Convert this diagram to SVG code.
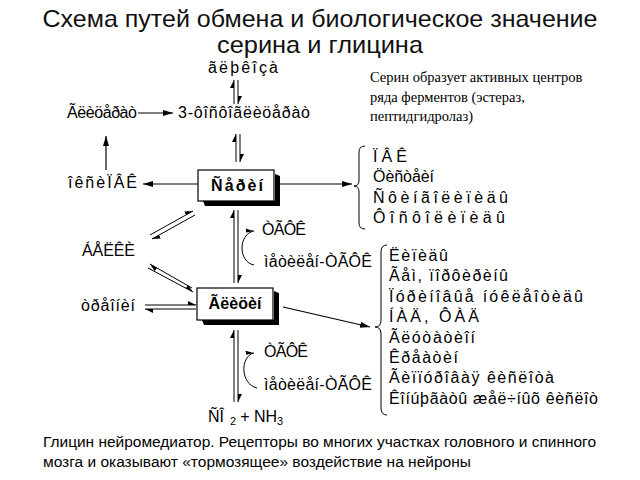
<svg xmlns="http://www.w3.org/2000/svg" width="640" height="480" viewBox="0 0 640 480">
<defs>
<marker id="ah" markerUnits="userSpaceOnUse" markerWidth="12" markerHeight="8" refX="10" refY="4" orient="auto"><path d="M0,1 L10,4 L0,7 Z" fill="#000"/></marker>
<marker id="hh" markerUnits="userSpaceOnUse" markerWidth="10" markerHeight="6" refX="8" refY="4.5" orient="auto"><path d="M0,0.5 L8,4.5 L0,4.5 Z" fill="#000"/></marker>
<style>
.t{font-family:"Liberation Sans",Arial,sans-serif;font-size:16px;fill:#000}
.b{font-family:"Liberation Sans",Arial,sans-serif;font-size:16px;font-weight:bold;fill:#000}
.s{font-family:"Liberation Serif","Times New Roman",serif;font-size:14.5px;fill:#000}
.ti{font-family:"Liberation Sans",Arial,sans-serif;font-size:24px;fill:#111}
.f{font-family:"Liberation Sans",Arial,sans-serif;font-size:15.5px;fill:#000}
.ln{stroke:#000;stroke-width:1;fill:none}
.ar{stroke:#000;stroke-width:1.2;fill:none;marker-end:url(#ah)}
.hp{stroke:#000;stroke-width:1;fill:none;marker-end:url(#hh)}
.box{fill:#fff;stroke:#000;stroke-width:1.2}
.sh{fill:#000}
</style>
</defs>
<rect width="640" height="480" fill="#fff"/>
<text class="ti" x="320" y="27" text-anchor="middle" textLength="555" lengthAdjust="spacingAndGlyphs">Схема путей обмена и биологическое значение</text>
<text class="ti" x="320" y="53" text-anchor="middle" textLength="206" lengthAdjust="spacingAndGlyphs">серина и глицина</text>

<text class="s" x="370" y="82">Серин образует активных центров</text>
<text class="s" x="370" y="102">ряда ферментов (эстераз,</text>
<text class="s" x="370" y="121">пептидгидролаз)</text>

<g id="connectors">
<line class="hp" x1="234" y1="104" x2="234" y2="80"/>
<line class="hp" x1="238" y1="80" x2="238" y2="104"/>
<line class="ar" x1="138" y1="113" x2="173" y2="113"/>
<line class="hp" x1="236" y1="162" x2="236" y2="134"/>
<line class="hp" x1="240" y1="134" x2="240" y2="162"/>
<line class="ar" x1="106" y1="170" x2="106" y2="136"/>
<line class="ar" x1="198" y1="184" x2="143" y2="184"/>
<line class="ar" x1="279" y1="184" x2="352" y2="184"/>
<line class="hp" x1="150" y1="235" x2="193" y2="211"/>
<line class="hp" x1="195" y1="215" x2="152" y2="239"/>
<line class="hp" x1="148" y1="268" x2="193" y2="292"/>
<line class="hp" x1="192" y1="288" x2="150" y2="264"/>
<line class="hp" x1="145" y1="305" x2="196" y2="305"/>
<line class="hp" x1="196" y1="309" x2="145" y2="309"/>
<line class="hp" x1="234" y1="283" x2="234" y2="210"/>
<line class="hp" x1="238" y1="210" x2="238" y2="283"/>
<path class="hp" d="M254,265 C238,262 238,234 254,231"/>
<line class="hp" x1="234" y1="402" x2="234" y2="330"/>
<line class="hp" x1="238" y1="330" x2="238" y2="402"/>
<path class="hp" d="M257,388 C240,384 240,356 254,353"/>
<line class="ar" x1="283" y1="307" x2="370" y2="327"/>
<path class="ln" d="M365,146 Q359,146 359,152 L359,180 Q359,186 354,186 Q359,186 359,192 L359,223 Q359,229 365,229"/>
<path class="ln" d="M387,245 Q381,245 381,252 L381,320 Q381,327 375,327 Q381,327 381,334 L381,408 Q381,415 387,415"/>
</g>

<g id="serine">
<polygon class="sh" points="203,201 275,201 275,174 280,176 280,206 205,206"/>
<rect class="box" x="198" y="170" width="76" height="31"/>
<text class="b" x="237" y="191" text-anchor="middle" textLength="52" lengthAdjust="spacing">Ñåðèí</text>
</g>
<g id="glycine">
<polygon class="sh" points="202,320 274,320 274,291 279,293 279,325 204,325"/>
<rect class="box" x="197" y="288" width="76" height="32"/>
<text class="b" x="235" y="309" text-anchor="middle" textLength="53" lengthAdjust="spacing">Ãëèöèí</text>
</g>

<g id="glucose"><text class="t" x="208" y="73" textLength="70" lengthAdjust="spacing">ãëþêîçà</text></g>
<g id="glycerate"><text class="t" x="67" y="118" textLength="70" lengthAdjust="spacing">Ãëèöåðàò</text></g>
<g id="pg3"><text class="t" x="178" y="118" textLength="132" lengthAdjust="spacing">3-ôîñôîãëèöåðàò</text></g>
<g id="oxypvk"><text class="t" x="68" y="188" textLength="69" lengthAdjust="spacing">îêñèÏÂÊ</text></g>
<g id="proteins"><text class="t" x="82" y="256" textLength="53" lengthAdjust="spacing">ÁÅËÊÈ</text></g>
<g id="threonine"><text class="t" x="81" y="311" textLength="54" lengthAdjust="spacing">òðåîíèí</text></g>
<g id="thf1"><text class="t" x="262" y="235" textLength="44" lengthAdjust="spacing">ÒÃÔÊ</text></g>
<g id="mthf1"><text class="t" x="264" y="267" textLength="108" lengthAdjust="spacing">ìåòèëåí-ÒÃÔÊ</text></g>
<g id="thf2"><text class="t" x="264" y="357" textLength="44" lengthAdjust="spacing">ÒÃÔÊ</text></g>
<g id="mthf2"><text class="t" x="264" y="390" textLength="108" lengthAdjust="spacing">ìåòèëåí-ÒÃÔÊ</text></g>
<g id="co2nh3"><text class="t" x="208" y="422" style="font-size:16px">ÑÎ<tspan dx="6" dy="3" style="font-size:11px">2</tspan><tspan dx="4" dy="-3">+ NH</tspan><tspan dy="3" style="font-size:11px">3</tspan></text></g>

<g id="serine-products">
<text class="t" x="373" y="162" textLength="34" lengthAdjust="spacing">ÏÂÊ</text>
<text class="t" x="373" y="182" textLength="61" lengthAdjust="spacing">Öèñòåèí</text>
<text class="t" x="373" y="203" textLength="135" lengthAdjust="spacing">Ñôèíãîëèïèäû</text>
<text class="t" x="373" y="223" textLength="132" lengthAdjust="spacing">Ôîñôîëèïèäû</text>
</g>
<g id="glycine-products">
<text class="t" x="389" y="261" textLength="59" lengthAdjust="spacing">Ëèïèäû</text>
<text class="t" x="389" y="281" textLength="119" lengthAdjust="spacing">Ãåì, ïîðôèðèíû</text>
<text class="t" x="389" y="302" textLength="194" lengthAdjust="spacing">Ïóðèíîâûå íóêëåîòèäû</text>
<text class="t" x="389" y="322" textLength="90" lengthAdjust="spacing">ÍÀÄ, ÔÀÄ</text>
<text class="t" x="389" y="343" textLength="86" lengthAdjust="spacing">Ãëóòàòèîí</text>
<text class="t" x="389" y="363" textLength="69" lengthAdjust="spacing">Êðåàòèí</text>
<text class="t" x="389" y="383" textLength="165" lengthAdjust="spacing">Ãèïïóðîâàÿ êèñëîòà</text>
<text class="t" x="389" y="404" textLength="209" lengthAdjust="spacing">Êîíúþãàòû æåë÷íûõ êèñëîò</text>
</g>

<text class="f" x="43" y="447" textLength="553" lengthAdjust="spacingAndGlyphs">Глицин нейромедиатор. Рецепторы во многих участках головного и спинного</text>
<text class="f" x="43" y="467">мозга и оказывают «тормозящее» воздействие на нейроны</text>
</svg>
